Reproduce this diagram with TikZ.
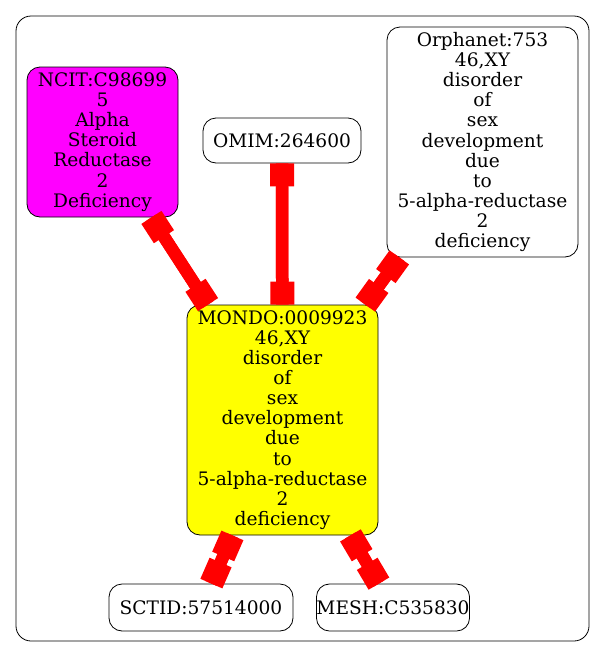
\documentclass[tikz,border=0pt]{standalone}
\usepackage{fontspec}
\setmainfont{DejaVu Serif}
\usetikzlibrary{arrows.meta}
\definecolor{nodemag}{HTML}{FF00FF}
\definecolor{nodeyel}{HTML}{FFFF00}
\definecolor{edgered}{HTML}{FF0000}
\begin{document}
\begin{tikzpicture}[x=1pt,y=-1pt,
  box/.style={draw=black, line width=0.8pt, rounded corners=13pt, align=center, inner sep=0pt,
    font=\fontsize{18.6}{20.1}\selectfont},
  linkbar/.style={draw=edgered, line width=12.5pt},
  link/.style={draw=edgered, line width=12.5pt,
    {Square[length=23pt 0 0, width=24pt 0 0, line width=0pt 0 0]}-{Square[length=23pt 0 0, width=24pt 0 0, line width=0pt 0 0]}}
]
\useasboundingbox (0,0) rectangle (605,659);
\draw[line width=0.8pt, rounded corners=15pt] (16,16) rectangle (589,641);
\node[box, fill=nodemag, minimum width=151pt, minimum height=150pt] (ncit) at (102.5,142)
  {NCIT:C98699\\5\\Alpha\\Steroid\\Reductase\\2\\Deficiency};
\node[box, minimum width=158pt, minimum height=45pt] (omim) at (282,140.5) {OMIM:264600};
\node[box, minimum width=191pt, minimum height=230pt] (orpha) at (482.5,142)
  {Orphanet:753\\46,XY\\disorder\\of\\sex\\development\\due\\to\\5-alpha-reductase\\2\\deficiency};
\node[box, fill=nodeyel, minimum width=191pt, minimum height=230pt] (mondo) at (282.5,420)
  {MONDO:0009923\\46,XY\\disorder\\of\\sex\\development\\due\\to\\5-alpha-reductase\\2\\deficiency};
\node[box, minimum width=184pt, minimum height=47pt] (sctid) at (201,607.5) {SCTID:57514000};
\node[box, minimum width=148pt, minimum height=47pt] (mesh) at (393,607.5) {MESH:C535830};
\foreach \a/\b in {ncit/mondo, omim/mondo, orpha/mondo, mondo/sctid, mondo/mesh} {
  \draw[linkbar] (\a) -- (\b);
  \draw[link] (\a) -- (\b);
}
\end{tikzpicture}
\end{document}
